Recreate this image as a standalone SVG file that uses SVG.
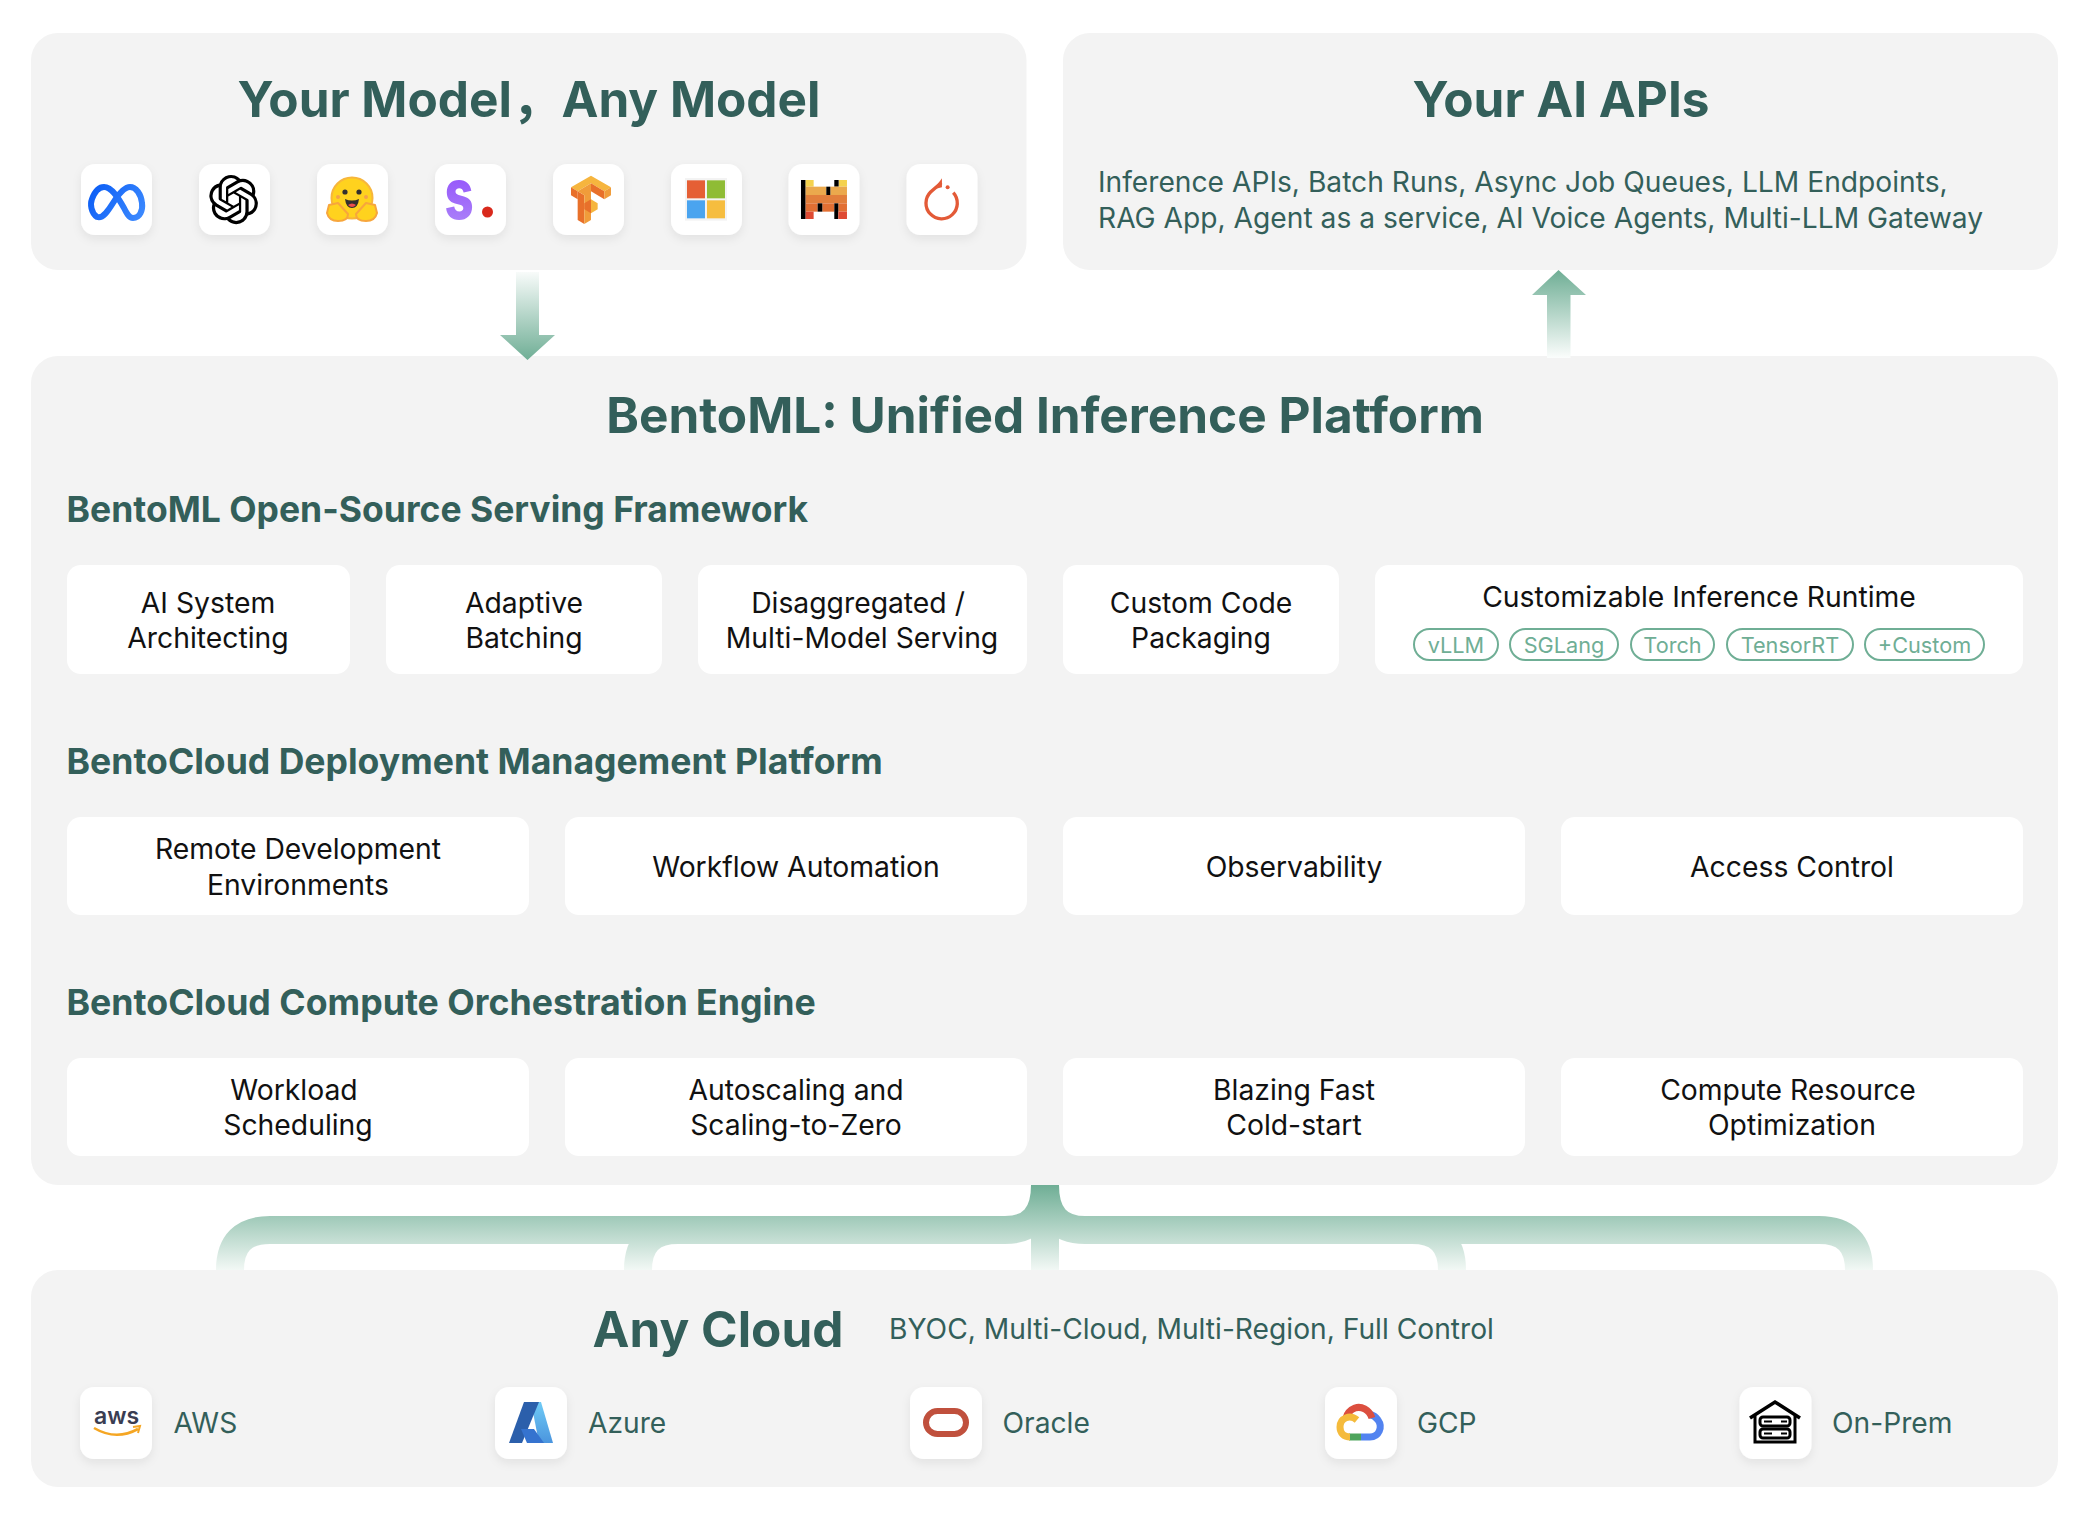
<svg xmlns="http://www.w3.org/2000/svg" width="2090" height="1524" viewBox="0 0 2090 1524">
<style>
text{font-family:Inter,"Noto Sans","Noto Sans CJK SC",sans-serif}
.panel{fill:#f3f3f3}
.card{fill:#fff}
.icon{fill:#fff;filter:url(#sh)}
.h1{font-size:49.5px;font-weight:700;fill:#335f5a;text-anchor:middle}
.h2{font-size:35.6px;font-weight:700;fill:#335f5a}
.body{font-size:28.2px;fill:#335f5a}
.c{font-size:28.3px;fill:#111;text-anchor:middle}
.pill{fill:none;stroke:#6fae95;stroke-width:2}
.pt{font-size:21.7px;fill:#6fae95;text-anchor:middle}
.tree{fill:none;stroke:url(#treeG);stroke-width:28}
</style>
<defs>
<filter id="sh" x="-30%" y="-30%" width="160%" height="170%"><feDropShadow dx="0" dy="4" stdDeviation="5" flood-color="#000" flood-opacity=".07"/></filter>
<linearGradient id="treeG" gradientUnits="userSpaceOnUse" x1="0" y1="1185" x2="0" y2="1270"><stop offset="0" stop-color="#6fae95"/><stop offset="1" stop-color="#f2f8f5"/></linearGradient>
<linearGradient id="downG" gradientUnits="userSpaceOnUse" x1="0" y1="272" x2="0" y2="360"><stop offset="0" stop-color="#f8fbfa"/><stop offset="1" stop-color="#6fae95"/></linearGradient>
<linearGradient id="upG" gradientUnits="userSpaceOnUse" x1="0" y1="270" x2="0" y2="358"><stop offset="0" stop-color="#6fae95"/><stop offset="1" stop-color="#fbfdfc"/></linearGradient>
<linearGradient id="metaG" gradientUnits="userSpaceOnUse" x1="90" y1="185" x2="145" y2="220"><stop offset="0" stop-color="#0a5cf5"/><stop offset="1" stop-color="#3f8cff"/></linearGradient>
<linearGradient id="sG" x1="0" y1="0" x2="0" y2="1"><stop offset="0" stop-color="#8a3ffc"/><stop offset="1" stop-color="#b08cf8"/></linearGradient>
<linearGradient id="azG" x1="0" y1="0" x2="0" y2="1"><stop offset="0" stop-color="#6fcbf6"/><stop offset="1" stop-color="#4b95de"/></linearGradient>
</defs>

<g id="panel-models">
<rect class="panel" x="31" y="33" width="995.500" height="237" rx="27"/>
<text class="h1" x="529" y="117">Your Model，Any Model</text>
<g id="icon-meta"><rect class="icon" x="81" y="164" width="71" height="71" rx="14"/>
<path d="M97 217C91 213 90 204 92 199C95 191 99 187 104 187C112 187 119 199 124 208C127 214 129 218 133 218C140 218 143 210 142 203C141 194 136 187 130 187C124 187 118 195 113 203C108 211 103 219 97 217Z" fill="none" stroke="url(#metaG)" stroke-width="6" stroke-linejoin="round"/></g>
<g id="icon-openai"><rect class="icon" x="199" y="164" width="71" height="71" rx="14"/>
<path transform="translate(209 175) scale(2.050)" fill="#000" d="M22.2819 9.8211a5.9847 5.9847 0 0 0-.5157-4.9108 6.0462 6.0462 0 0 0-6.5098-2.9A6.0651 6.0651 0 0 0 4.9807 4.1818a5.9847 5.9847 0 0 0-3.9977 2.9 6.0462 6.0462 0 0 0 .7427 7.0966 5.98 5.98 0 0 0 .511 4.9107 6.051 6.051 0 0 0 6.5146 2.9001A5.9847 5.9847 0 0 0 13.2599 24a6.0557 6.0557 0 0 0 5.7718-4.2058 5.9894 5.9894 0 0 0 3.9977-2.9001 6.0557 6.0557 0 0 0-.7475-7.0729zm-9.022 12.6081a4.4755 4.4755 0 0 1-2.8764-1.0408l.1419-.0804 4.7783-2.7582a.7948.7948 0 0 0 .3927-.6813v-6.7369l2.02 1.1686a.071.071 0 0 1 .038.052v5.5826a4.504 4.504 0 0 1-4.4945 4.4944zm-9.6607-4.1254a4.4708 4.4708 0 0 1-.5346-3.0137l.142.0852 4.783 2.7582a.7712.7712 0 0 0 .7806 0l5.8428-3.3685v2.3324a.0804.0804 0 0 1-.0332.0615L9.74 19.9502a4.4992 4.4992 0 0 1-6.1408-1.6464zM2.3408 7.8956a4.485 4.485 0 0 1 2.3655-1.9728V11.6a.7664.7664 0 0 0 .3879.6765l5.8144 3.3543-2.0201 1.1685a.0757.0757 0 0 1-.071 0l-4.8303-2.7865A4.504 4.504 0 0 1 2.3408 7.872zm16.5963 3.8558L13.1038 8.364 15.1192 7.2a.0757.0757 0 0 1 .071 0l4.8303 2.7913a4.4944 4.4944 0 0 1-.6765 8.1042v-5.6772a.79.79 0 0 0-.407-.667zm2.0107-3.0231l-.142-.0852-4.7735-2.7818a.7759.7759 0 0 0-.7854 0L9.409 9.2297V6.8974a.0662.0662 0 0 1 .0284-.0615l4.8303-2.7866a4.4992 4.4992 0 0 1 6.6802 4.66zM8.3065 12.863l-2.02-1.1638a.0804.0804 0 0 1-.038-.0567V6.0742a4.4992 4.4992 0 0 1 7.3757-3.4537l-.142.0805L8.704 5.459a.7948.7948 0 0 0-.3927.6813zm1.0976-2.3654l2.602-1.4998 2.6069 1.4998v2.9994l-2.5974 1.4997-2.6067-1.4997Z"/></g>
<g id="icon-huggingface"><rect class="icon" x="317" y="164" width="71" height="71" rx="14"/>
<circle cx="352" cy="198" r="20.500" fill="#ffd21e" stroke="#f7b63c" stroke-width="2"/>
<circle cx="345" cy="192" r="2.600" fill="#33302e"/><circle cx="359" cy="192" r="2.600" fill="#33302e"/>
<circle cx="338" cy="197" r="2" fill="#f5a24a"/><circle cx="366" cy="197" r="2" fill="#f5a24a"/>
<path d="M345 199Q352 202 359 199Q358 208 352 208Q346 208 345 199Z" fill="#33302e"/><path d="M348 205Q352 202 356 205Q352 209 348 205Z" fill="#ef4e4e"/>
<path d="M329 205L338 203L348 214Q348 221 338 221Q329 221 327 213Z" fill="#ffd21e" stroke="#f7a63c" stroke-width="2" stroke-linejoin="round"/>
<path d="M375 205L366 203L356 214Q356 221 366 221Q375 221 377 213Z" fill="#ffd21e" stroke="#f7a63c" stroke-width="2" stroke-linejoin="round"/></g>
<g id="icon-stability"><rect class="icon" x="435" y="164" width="71" height="71" rx="14"/>
<text transform="translate(444.500 219) scale(.76 1.060)" font-size="67" font-weight="800" style="fill:url(#sG)">s</text>
<circle cx="487.500" cy="212" r="5.500" fill="#d9291c"/></g>
<g id="icon-tensorflow"><rect class="icon" x="553" y="164" width="71" height="71" rx="14"/>
<g transform="translate(530 150) scale(.3333)">
<path fill="#f6b53e" d="M123 112L183 77L243 112L223 124L183 100L143 124Z"/>
<path fill="#e8702a" d="M123 112L143 124V148L123 136Z"/>
<path fill="#e8702a" d="M143 124L163 136V222L143 210Z"/>
<path fill="#f09c3a" d="M143 124L183 100V210L163 222V136Z"/>
<path fill="#e8702a" d="M183 100L223 124V148L183 124Z"/>
<path fill="#f09c3a" d="M223 124L243 112V136L223 148Z"/>
<path fill="#f6b53e" d="M183 148L203 160V178L183 190Z"/>
<path fill="#e8702a" d="M163 160L183 148V190L163 178Z"/>
</g></g>
<g id="icon-microsoft"><rect class="icon" x="671" y="164" width="71" height="71" rx="14"/>
<g transform="translate(530 150) scale(.3333)">
<rect x="465" y="84" width="126" height="128" fill="#f3f3f3"/>
<rect x="471" y="91" width="54" height="54" fill="#e55f35"/><rect x="531" y="91" width="54" height="54" fill="#8fbc35"/>
<rect x="471" y="151" width="54" height="54" fill="#4aa4ef"/><rect x="531" y="151" width="54" height="54" fill="#f6bd3f"/>
</g></g>
<g id="icon-mistral"><rect class="icon" x="788.500" y="164" width="71" height="71" rx="14"/>
<g transform="translate(530 150) scale(.3333)">
<rect x="813" y="90" width="14" height="117"/>
<rect x="827" y="90" width="24" height="20" fill="#f4d24e"/><rect x="926" y="90" width="25" height="20" fill="#f4d24e"/>
<rect x="913" y="90" width="13" height="20"/>
<rect x="827" y="110" width="62" height="25" fill="#eba94d"/><rect x="901" y="110" width="50" height="25" fill="#eba94d"/>
<rect x="889" y="110" width="12" height="25"/>
<rect x="827" y="135" width="124" height="25" fill="#e27f3c"/>
<rect x="827" y="160" width="36" height="25" fill="#e26f33"/><rect x="877" y="160" width="36" height="25" fill="#e26f33"/><rect x="925" y="160" width="26" height="25" fill="#e26f33"/>
<rect x="863" y="160" width="14" height="25"/><rect x="913" y="160" width="12" height="47"/>
<rect x="827" y="185" width="24" height="22" fill="#df4a33"/><rect x="925" y="185" width="26" height="22" fill="#df4a33"/>
</g></g>
<g id="icon-pytorch"><rect class="icon" x="906.500" y="164" width="71" height="71" rx="14"/>
<g transform="translate(530 150) scale(.3333)">
<path d="M1270 128A47 47 0 1 1 1202 126L1234 98" fill="none" stroke="#e35a37" stroke-width="10"/>
<path d="M1236 85V112L1212 118Z" fill="#e35a37"/><circle cx="1253" cy="112" r="6" fill="#e35a37"/>
</g></g>
</g>

<g id="panel-apis">
<rect class="panel" x="1063" y="33" width="995" height="237" rx="27"/>
<text class="h1" x="1561" y="117">Your AI APIs</text>
<text class="body" x="1098" y="192">Inference APIs, Batch Runs, Async Job Queues, LLM Endpoints,</text>
<text class="body" x="1098" y="228">RAG App, Agent as a service, AI Voice Agents, Multi-LLM Gateway</text>
</g>

<g id="panel-platform">
<rect class="panel" x="31" y="356" width="2027" height="829" rx="27"/>
<text class="h1" x="1045" y="433">BentoML: Unified Inference Platform</text>
<text class="h2" x="66.500" y="522" style="font-size:35.5px">BentoML Open-Source Serving Framework</text>
<text class="h2" x="66.500" y="774">BentoCloud Deployment Management Platform</text>
<text class="h2" x="66.500" y="1015" style="font-size:35.7px">BentoCloud Compute Orchestration Engine</text>
</g>

<g id="card-ai-system"><rect class="card" x="67" y="565" width="283" height="109" rx="14"/><text class="c" x="208" y="613">AI System</text><text class="c" x="208" y="648">Architecting</text></g>
<g id="card-batching"><rect class="card" x="386" y="565" width="276" height="109" rx="14"/><text class="c" x="524" y="613">Adaptive</text><text class="c" x="524" y="648">Batching</text></g>
<g id="card-disaggregated"><rect class="card" x="698" y="565" width="329" height="109" rx="14"/><text class="c" x="858" y="613">Disaggregated /</text><text class="c" x="862" y="648">Multi-Model Serving</text></g>
<g id="card-packaging"><rect class="card" x="1063" y="565" width="276" height="109" rx="14"/><text class="c" x="1201" y="613">Custom Code</text><text class="c" x="1201" y="648">Packaging</text></g>
<g id="card-runtime"><rect class="card" x="1375" y="565" width="648" height="109" rx="14"/><text class="c" x="1699" y="607">Customizable Inference Runtime</text>
<rect class="pill" x="1414" y="629" width="84" height="31" rx="15.500"/><text class="pt" x="1456" y="653">vLLM</text>
<rect class="pill" x="1510" y="629" width="108" height="31" rx="15.500"/><text class="pt" x="1564" y="653">SGLang</text>
<rect class="pill" x="1631" y="629" width="83" height="31" rx="15.500"/><text class="pt" x="1672.500" y="653">Torch</text>
<rect class="pill" x="1727" y="629" width="126" height="31" rx="15.500"/><text class="pt" x="1790" y="653">TensorRT</text>
<rect class="pill" x="1865" y="629" width="119" height="31" rx="15.500"/><text class="pt" x="1924.500" y="653">+Custom</text></g>

<g id="card-remote"><rect class="card" x="67" y="817" width="462" height="98" rx="14"/><text class="c" x="298" y="859">Remote Development</text><text class="c" x="298" y="895">Environments</text></g>
<g id="card-workflow"><rect class="card" x="565" y="817" width="462" height="98" rx="14"/><text class="c" x="796" y="877">Workflow Automation</text></g>
<g id="card-observability"><rect class="card" x="1063" y="817" width="462" height="98" rx="14"/><text class="c" x="1294" y="877">Observability</text></g>
<g id="card-access"><rect class="card" x="1561" y="817" width="462" height="98" rx="14"/><text class="c" x="1792" y="877">Access Control</text></g>

<g id="card-scheduling"><rect class="card" x="67" y="1058" width="462" height="98" rx="14"/><text class="c" x="294" y="1100">Workload</text><text class="c" x="298" y="1135">Scheduling</text></g>
<g id="card-autoscaling"><rect class="card" x="565" y="1058" width="462" height="98" rx="14"/><text class="c" x="796" y="1100">Autoscaling and</text><text class="c" x="796" y="1135">Scaling-to-Zero</text></g>
<g id="card-coldstart"><rect class="card" x="1063" y="1058" width="462" height="98" rx="14"/><text class="c" x="1294" y="1100">Blazing Fast</text><text class="c" x="1294" y="1135">Cold-start</text></g>
<g id="card-optimization"><rect class="card" x="1561" y="1058" width="462" height="98" rx="14"/><text class="c" x="1788" y="1100">Compute Resource</text><text class="c" x="1792" y="1135">Optimization</text></g>

<g id="panel-cloud">
<rect class="panel" x="31" y="1270" width="2027" height="217" rx="27"/>
<text class="h1" x="718" y="1347">Any Cloud</text>
<text class="body" x="889" y="1339">BYOC, Multi-Cloud, Multi-Region, Full Control</text>
<g id="cloud-aws"><rect class="icon" x="80" y="1387" width="72" height="72" rx="14"/>
<text x="116.500" y="1424" font-size="23" font-weight="600" fill="#3a3d52" text-anchor="middle">aws</text>
<path d="M94 1428Q116 1441 138 1429" fill="none" stroke="#f5a623" stroke-width="2.600"/><path d="M133 1427L140 1426L138 1433" fill="none" stroke="#f5a623" stroke-width="2"/>
<text class="body" x="173.500" y="1433">AWS</text></g>
<g id="cloud-azure"><rect class="icon" x="495" y="1387" width="72" height="72" rx="14"/>
<path fill="url(#azG)" d="M531 1402H541L553 1443H539Z"/>
<path fill="#2b5fab" d="M524 1402H539L522 1443H509Z"/>
<path fill="#3573cf" d="M521 1429H534L544 1443H527Z"/>
<text class="body" x="588" y="1433">Azure</text></g>
<g id="cloud-oracle"><rect class="icon" x="910" y="1387" width="72" height="72" rx="14"/>
<rect x="926" y="1411" width="40" height="23" rx="11.500" fill="none" stroke="#c0503d" stroke-width="6"/>
<text class="body" x="1002.500" y="1433">Oracle</text></g>
<g id="cloud-gcp"><rect class="icon" x="1325" y="1387" width="72" height="72" rx="14"/>
<g fill="none" stroke-width="7">
<path stroke="#5283f0" d="M1361 1437H1370C1379 1437 1383 1427 1378 1420C1376 1417 1373 1415 1369 1414"/>
<path stroke="#dc4f3f" d="M1372 1418C1369 1409 1361 1406 1355 1408C1350 1410 1347 1414 1346 1418"/>
<path stroke="#4ea45c" d="M1349 1437H1361"/>
<path stroke="#f5bb3c" d="M1357 1420C1350 1414 1340 1418 1340 1427C1340 1433 1344 1437 1350 1437"/>
</g>
<text class="body" x="1417" y="1433">GCP</text></g>
<g id="cloud-onprem"><rect class="icon" x="1739.500" y="1387" width="72" height="72" rx="14"/>
<path d="M1750 1418L1775 1402L1800 1418" fill="none" stroke="#000" stroke-width="3.500"/>
<path d="M1755 1416V1442H1795V1416" fill="none" stroke="#000" stroke-width="3"/>
<rect x="1760" y="1417" width="30" height="9" rx="3" fill="none" stroke="#000" stroke-width="3"/>
<rect x="1760" y="1429" width="30" height="9" rx="3" fill="none" stroke="#000" stroke-width="3"/>
<path d="M1781 1421.500H1787M1781 1433.500H1787M1764 1421.500H1772M1764 1433.500H1772" stroke="#000" stroke-width="2"/>
<text class="body" x="1832" y="1433">On-Prem</text></g>
</g>

<g id="connectors">
<path id="arrow-down" fill="url(#downG)" d="M516 272H539V335H555L527.500 360L500 335H516Z"/>
<path id="arrow-up" fill="url(#upG)" d="M1558.500 270L1586 295H1570.500V358H1547V295H1532Z"/>
<g id="cloud-tree" class="tree">
<path d="M1045 1185V1270"/>
<path d="M230 1270Q230 1230 270 1230H1005Q1045 1230 1045 1185"/>
<path d="M1859 1270Q1859 1230 1819 1230H1085Q1045 1230 1045 1185"/>
<path d="M638 1270Q638 1230 678 1230"/>
<path d="M1452 1270Q1452 1230 1412 1230"/>
</g>
</g>
</svg>
